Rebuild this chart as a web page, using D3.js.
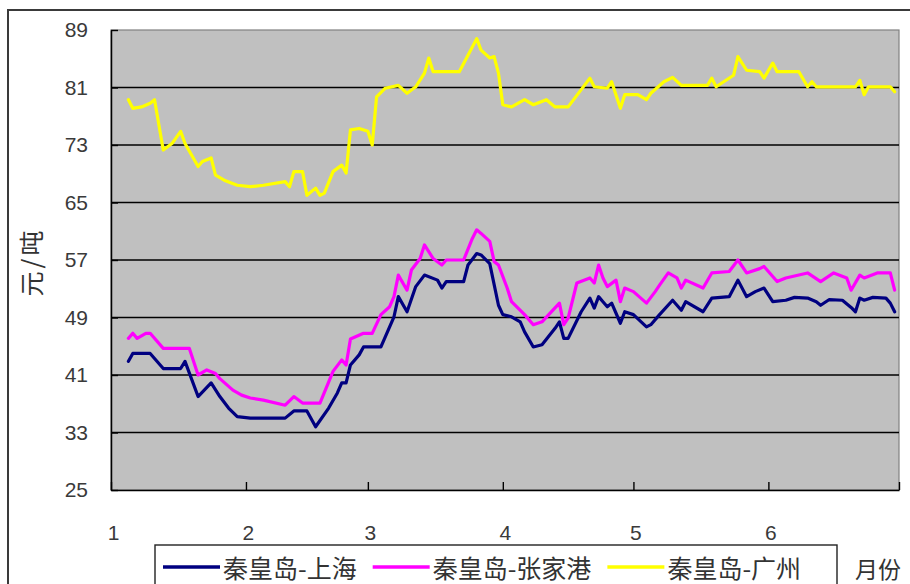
<!DOCTYPE html>
<html>
<head>
<meta charset="utf-8">
<script src="https://cdn.jsdelivr.net/npm/d3@7"></script>
<style>
  html, body { margin: 0; padding: 0; background: #fff; }
  svg { display: block; }
</style>
</head>
<body>
<svg id="chart" width="910" height="584"></svg>
<script>
// Coal freight rates from Qinhuangdao (元/吨), daily quotes through the first half of the year.
const seriesNames = ["秦皇岛-上海", "秦皇岛-张家港", "秦皇岛-广州"];
const seriesColors = ["#000080", "#FF00FF", "#FFFF00"];

const shanghaiDates = ["01-05","01-06","01-10","01-13","01-17","01-18","01-21","01-24","01-26","01-28","01-30",
  "02-02","02-10","02-12","02-15","02-17","02-20","02-22","02-23","02-24","02-25","02-27","02-28",
  "03-04","03-07","03-08","03-10","03-12","03-14","03-17","03-18","03-19","03-23","03-24","03-26","03-27","03-29","03-31",
  "04-01","04-03","04-05","04-06","04-08","04-10","04-13","04-14","04-15","04-16","04-19","04-21","04-22","04-23","04-24","04-25","04-26","04-28","04-29",
  "05-01","05-04","05-05","05-07","05-10","05-12","05-13","05-17","05-19","05-23","05-25","05-27","05-29","05-31",
  "06-02","06-05","06-07","06-10","06-12","06-13","06-15","06-18","06-20","06-21","06-22","06-23","06-25","06-28","06-29","06-30"];
const shanghaiValues = [42.9,44.0,44.0,41.9,41.9,42.9,38.0,39.9,38.0,36.4,35.2,
  35.0,35.0,36.0,36.0,33.8,36.4,38.5,39.9,39.9,42.4,43.8,44.9,
  44.9,49.1,51.9,49.8,53.3,54.9,54.2,53.1,54.0,54.0,56.3,57.9,57.7,56.5,50.7,
  49.4,49.1,48.4,47.0,44.9,45.2,47.5,48.4,46.1,46.1,49.8,51.7,50.3,51.9,51.2,50.5,51.0,48.2,49.8,
  49.4,47.7,48.0,49.4,51.4,50.0,51.2,49.8,51.7,51.9,54.2,51.9,52.6,53.1,
  51.2,51.4,51.8,51.7,51.2,50.7,51.5,51.4,50.4,49.8,51.7,51.4,51.8,51.7,51.0,49.8];

const zhangjiagangDates = ["01-05","01-06","01-07","01-09","01-10","01-13","01-19","01-21","01-23","01-25","01-26","01-29","01-31",
  "02-02","02-05","02-10","02-12","02-14","02-18","02-21","02-23","02-24","02-25","02-28",
  "03-02","03-04","03-06","03-07","03-08","03-10","03-11","03-13","03-14","03-16","03-18","03-19","03-23","03-25","03-26","03-27","03-29","03-30","03-31",
  "04-02","04-03","04-06","04-08","04-10","04-14","04-15","04-16","04-18","04-21","04-22","04-23","04-24","04-25","04-27","04-28","04-29",
  "05-01","05-04","05-06","05-07","05-09","05-11","05-12","05-13","05-17","05-19","05-23","05-25","05-27","05-30","05-31",
  "06-03","06-05","06-10","06-13","06-16","06-19","06-20","06-22","06-23","06-26","06-29","06-30"];
const zhangjiagangValues = [46.1,46.8,46.1,46.8,46.8,44.7,44.7,41.0,41.7,41.2,40.5,38.9,38.2,
  37.8,37.5,36.8,38.0,37.1,37.1,41.5,43.1,42.4,46.0,46.8,
  46.8,49.4,50.5,51.9,54.9,52.8,55.6,57.2,59.1,57.2,56.3,57.0,57.0,60.0,61.2,60.7,59.6,56.8,56.3,
  53.1,51.2,49.4,48.0,48.4,51.0,48.0,48.9,53.8,54.5,53.8,56.3,54.5,53.3,54.2,51.2,53.1,
  52.6,51.0,52.6,53.5,55.2,54.5,53.1,54.2,53.1,55.2,55.4,57.0,55.2,55.8,56.1,
  54.0,54.5,55.2,54.0,55.2,54.5,52.8,54.9,54.5,55.2,55.2,52.8];

const guangzhouDates = ["01-05","01-06","01-08","01-10","01-11","01-13","01-15","01-17","01-18","01-21","01-22","01-24","01-25","01-27","01-30",
  "02-02","02-05","02-10","02-11","02-12","02-14","02-15","02-17","02-18","02-19","02-21","02-23","02-24","02-25","02-27",
  "03-01","03-02","03-03","03-05","03-08","03-10","03-12","03-14","03-15","03-16","03-22","03-24","03-26","03-27","03-29","03-30","03-31",
  "04-01","04-03","04-06","04-08","04-11","04-13","04-16","04-21","04-22","04-25","04-26","04-28","04-29",
  "05-02","05-04","05-05","05-08","05-10","05-12","05-18","05-19","05-20","05-24","05-25","05-27","05-30","05-31",
  "06-02","06-03","06-08","06-10","06-11","06-12","06-21","06-22","06-23","06-24","06-29","06-30"];
const guangzhouValues = [79.3,78.1,78.3,78.8,79.3,72.3,73.2,74.9,73.2,70.0,70.7,71.2,68.8,68.1,67.4,
  67.2,67.4,67.9,67.2,69.3,69.3,66.0,67.0,66.0,66.3,69.3,70.2,69.1,75.1,75.3,
  74.9,73.0,79.7,80.9,81.3,80.2,81.1,83.0,85.1,83.2,83.2,85.5,87.8,86.2,85.1,85.3,83.0,
  78.6,78.3,79.3,78.6,79.3,78.3,78.3,82.3,81.1,80.9,81.8,78.1,80.0,
  80.0,79.3,80.2,81.8,82.4,81.3,81.3,82.3,81.1,82.7,85.3,83.4,83.2,82.3,
  84.4,83.2,83.2,81.1,81.8,81.1,81.1,82.0,80.0,81.1,81.1,80.4];

const yTicks = [25, 33, 41, 49, 57, 65, 73, 81, 89];
const monthLabels = ["1", "2", "3", "4", "5", "6"];
const yTitle = "元/吨";
const xTitle = "月份";

const YEAR = 2010;
const parseDay = d3.timeParse("%Y-%m-%d");
const toDate = s => parseDay(YEAR + "-" + s);

const seriesData = [
  [shanghaiDates, shanghaiValues],
  [zhangjiagangDates, zhangjiagangValues],
  [guangzhouDates, guangzhouValues]
].map(([dates, values], i) => ({
  name: seriesNames[i],
  color: seriesColors[i],
  points: dates.map((s, j) => ({ date: toDate(s), value: values[j] }))
}));

const svg = d3.select("#chart");
const plot = { left: 111, top: 30, right: 899, bottom: 490 };

// chart area frame
svg.append("rect")
  .attr("x", 8).attr("y", 10).attr("width", 930).attr("height", 620)
  .attr("fill", "#fff").attr("stroke", "#3a3a3a").attr("stroke-width", 2);

const x = d3.scaleTime()
  .domain([new Date(YEAR, 0, 1), new Date(YEAR, 6, 1)])
  .range([plot.left, plot.right]);
const y = d3.scaleLinear()
  .domain([25, 89])
  .range([plot.bottom, plot.top]);

// plot area
svg.append("rect")
  .attr("x", plot.left).attr("y", plot.top)
  .attr("width", plot.right - plot.left).attr("height", plot.bottom - plot.top)
  .attr("fill", "#C0C0C0").attr("stroke", "#808080").attr("stroke-width", 1.2);

// horizontal gridlines
svg.append("g").selectAll("line")
  .data(yTicks.filter(v => v > 25 && v < 89))
  .join("line")
  .attr("x1", plot.left).attr("x2", plot.right)
  .attr("y1", d => y(d)).attr("y2", d => y(d))
  .attr("stroke", "#000").attr("stroke-width", 1.4);

// value axis
const yAxis = svg.append("g")
  .attr("transform", `translate(${plot.left},0)`)
  .call(d3.axisLeft(y).tickValues(yTicks).tickSize(-7).tickSizeOuter(0).tickPadding(23));
yAxis.select(".domain").attr("stroke", "#000").attr("stroke-width", 1.5);
yAxis.selectAll(".tick line").attr("stroke", "#000").attr("stroke-width", 1.4);
yAxis.selectAll(".tick text")
  .attr("font-family", "'Liberation Sans', Arial, sans-serif")
  .attr("font-size", 21).attr("fill", "#3a3a3a");

// month axis
const monthStarts = d3.timeMonth.range(new Date(YEAR, 0, 1), new Date(YEAR, 6, 2));
const xAxis = svg.append("g")
  .attr("transform", `translate(0,${plot.bottom})`)
  .call(d3.axisBottom(x).tickValues(monthStarts).tickSize(-8).tickSizeOuter(0).tickPadding(35)
    .tickFormat(d => monthLabels[d.getMonth()] || ""));
xAxis.select(".domain").attr("stroke", "#000").attr("stroke-width", 1.5);
xAxis.selectAll(".tick line").attr("stroke", "#000").attr("stroke-width", 1.4);
xAxis.selectAll(".tick text")
  .attr("font-family", "'Liberation Sans', Arial, sans-serif")
  .attr("font-size", 21).attr("fill", "#3a3a3a")
  .attr("dx", 2);

// series lines
const line = d3.line()
  .x(d => x(d.date))
  .y(d => y(d.value))
  .curve(d3.curveLinear);

svg.append("g").selectAll("path")
  .data(seriesData)
  .join("path")
  .attr("d", d => line(d.points))
  .attr("fill", "none")
  .attr("stroke", d => d.color)
  .attr("stroke-width", 3.2)
  .attr("stroke-linejoin", "round")
  .attr("stroke-linecap", "round");

// axis titles
const cjk = "'Noto Sans CJK SC', 'Noto Sans', sans-serif";
svg.append("text")
  .attr("transform", "translate(30,262) rotate(-90)")
  .attr("text-anchor", "middle").attr("dominant-baseline", "central")
  .attr("font-family", cjk).attr("font-size", 25).attr("letter-spacing", 3)
  .attr("fill", "#333").text(yTitle);

svg.append("text")
  .attr("x", 855).attr("y", 568)
  .attr("dominant-baseline", "central")
  .attr("font-family", cjk).attr("font-size", 23)
  .attr("fill", "#333").text(xTitle);

// legend
const legend = svg.append("g");
legend.append("rect")
  .attr("x", 155).attr("y", 545).attr("width", 682).attr("height", 50)
  .attr("fill", "#fff").attr("stroke", "#222").attr("stroke-width", 1.4);

let cursor = 163;
const legendY = 567;
seriesData.forEach(s => {
  legend.append("line")
    .attr("x1", cursor).attr("x2", cursor + 57)
    .attr("y1", legendY).attr("y2", legendY)
    .attr("stroke", s.color).attr("stroke-width", 3.5);
  const t = legend.append("text")
    .attr("x", cursor + 60).attr("y", legendY)
    .attr("dominant-baseline", "central")
    .attr("font-family", cjk).attr("font-size", 25)
    .attr("fill", "#333").text(s.name);
  cursor += 60 + t.node().getComputedTextLength() + 16;
});
</script>
</body>
</html>
